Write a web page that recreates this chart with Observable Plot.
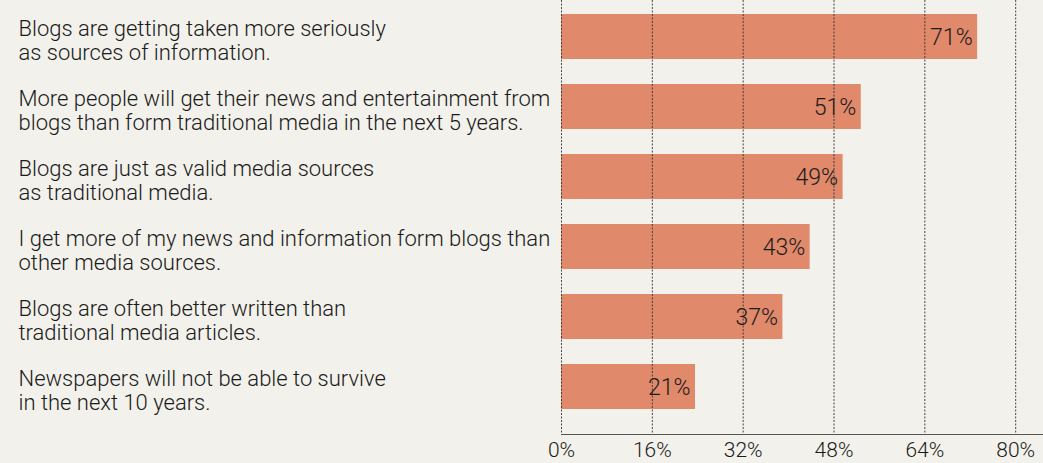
<!DOCTYPE html>
<html><head><meta charset="utf-8">
<script src="https://cdn.jsdelivr.net/npm/d3@7"></script>
<script src="https://cdn.jsdelivr.net/npm/@observablehq/plot@0.6"></script>
<style>
html,body{margin:0;padding:0;background:#f2f1eb;}
#chart{width:1043px;height:463px;overflow:hidden;}
</style></head><body><div id="chart"></div>
<script>
const statements = [
  "Blogs are getting taken more seriously\nas sources of information.",
  "More people will get their news and entertainment from\nblogs than form traditional media in the next 5 years.",
  "Blogs are just as valid media sources\nas traditional media.",
  "I get more of my news and information form blogs than\nother media sources.",
  "Blogs are often better written than\ntraditional media articles.",
  "Newspapers will not be able to survive\nin the next 10 years."
];
const shareLabels = ["71%", "51%", "49%", "43%", "37%", "21%"];
const barValues = [73.3, 52.8, 49.6, 43.8, 39.0, 23.6];
const tickValues = [0, 16, 32, 48, 64, 80];

const data = statements.map((s, i) => ({statement: s, value: barValues[i], label: shareLabels[i]}));

const plot = Plot.plot({
  width: 1043, height: 463,
  marginLeft: 561, marginRight: 0, marginTop: 0, marginBottom: 29,
  style: {background: "#f2f1eb", fontFamily: "Roboto, 'Liberation Sans', sans-serif", color: "#1a1a1a", fontWeight: 300},
  x: {domain: [0, 84.9], label: null},
  y: {domain: statements, range: [0, 422], paddingInner: 0.36, paddingOuter: 0.18, axis: null},
  marks: [
    Plot.barX(data, {x: "value", y: "statement", fill: "#e0896b"}),
    Plot.text(data, {x: "value", y: "statement", text: "label", textAnchor: "end", dx: -5, dy: 1, fontSize: 23, fill: "#1a1a1a"}),
    Plot.gridX(tickValues, {stroke: "#333", strokeOpacity: 0.9, strokeDasharray: "2,1.5", strokeWidth: 1}),
    Plot.frame({anchor: "bottom", stroke: "#555", strokeDasharray: "2,1"}),
    Plot.axisX({ticks: tickValues, tickFormat: d => d + "%", tickSize: 0, tickPadding: 8, fontSize: 21, label: null, fill: "#1a1a1a"}),
    Plot.text(data, {y: "statement", text: "statement", frameAnchor: "left", dx: -543, dy: 3, textAnchor: "start", fontSize: 22, lineHeight: 1.1, fill: "#1a1a1a"})
  ]
});
document.getElementById("chart").appendChild(plot);
</script></body></html>
